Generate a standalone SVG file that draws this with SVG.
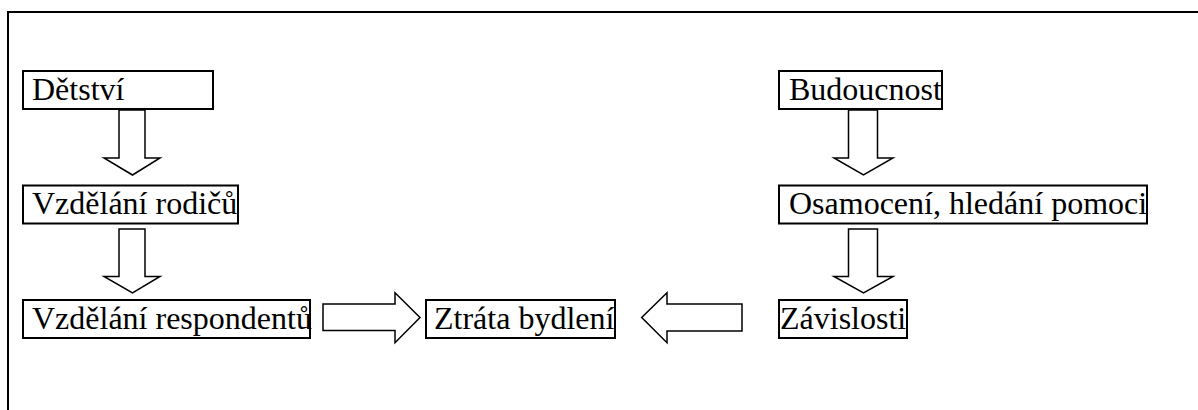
<svg xmlns="http://www.w3.org/2000/svg" width="1198" height="410" viewBox="0 0 1198 410">
<style>
.box{fill:#fff;stroke:#000;stroke-width:2}
.arr{fill:#fff;stroke:#000;stroke-width:1.5;stroke-linejoin:miter}
.t{font-family:"Liberation Serif","Times New Roman",serif;font-size:32px;fill:#000}
.frame{fill:none;stroke:#000;stroke-width:2}
</style>
<rect width="1198" height="410" fill="#fff"/>
<path class="frame" d="M8,410 V12 H1198"/>
<g id="connectors">
<path class="arr" d="M119,110 H145 V158 H160 L132.5,175 L104,158 H119 Z"/>
<path class="arr" d="M119,229 H145 V276.5 H160 L132.5,293 L104,276.5 H119 Z"/>
<path class="arr" d="M848.5,110 H877.5 V158 H893 L863.5,175 L834,158 H848.5 Z"/>
<path class="arr" d="M848.5,229 H877.5 V276.5 H893 L863.5,293 L834,276.5 H848.5 Z"/>
<path class="arr" d="M323,304 H395 V292.7 L420,317.5 L395,342.7 V330.5 H323 Z"/>
<path class="arr" d="M742,304 H667 V292.7 L641.7,317.5 L667,342.7 V331 H742 Z"/>
</g>
<g id="n-detstvi"><rect class="box" x="23" y="71" width="190" height="38"/><text class="t" x="32" y="100">Dětství</text></g>
<g id="n-rodicu"><rect class="box" x="23" y="185.5" width="215" height="38"/><text class="t" x="32" y="214">Vzdělání rodičů</text></g>
<g id="n-respondentu"><rect class="box" x="23" y="300" width="287" height="38"/><text class="t" x="32" y="329">Vzdělání respondentů</text></g>
<g id="n-ztrata"><rect class="box" x="426" y="300" width="189" height="38"/><text class="t" x="434" y="329">Ztráta bydlení</text></g>
<g id="n-budoucnost"><rect class="box" x="779" y="71" width="163" height="38"/><text class="t" x="789" y="100">Budoucnost</text></g>
<g id="n-osamoceni"><rect class="box" x="779" y="185.5" width="368" height="38"/><text class="t" x="789" y="214">Osamocení, hledání pomoci</text></g>
<g id="n-zavislosti"><rect class="box" x="779" y="300" width="128" height="38"/><text class="t" x="780" y="329">Závislosti</text></g>
</svg>
